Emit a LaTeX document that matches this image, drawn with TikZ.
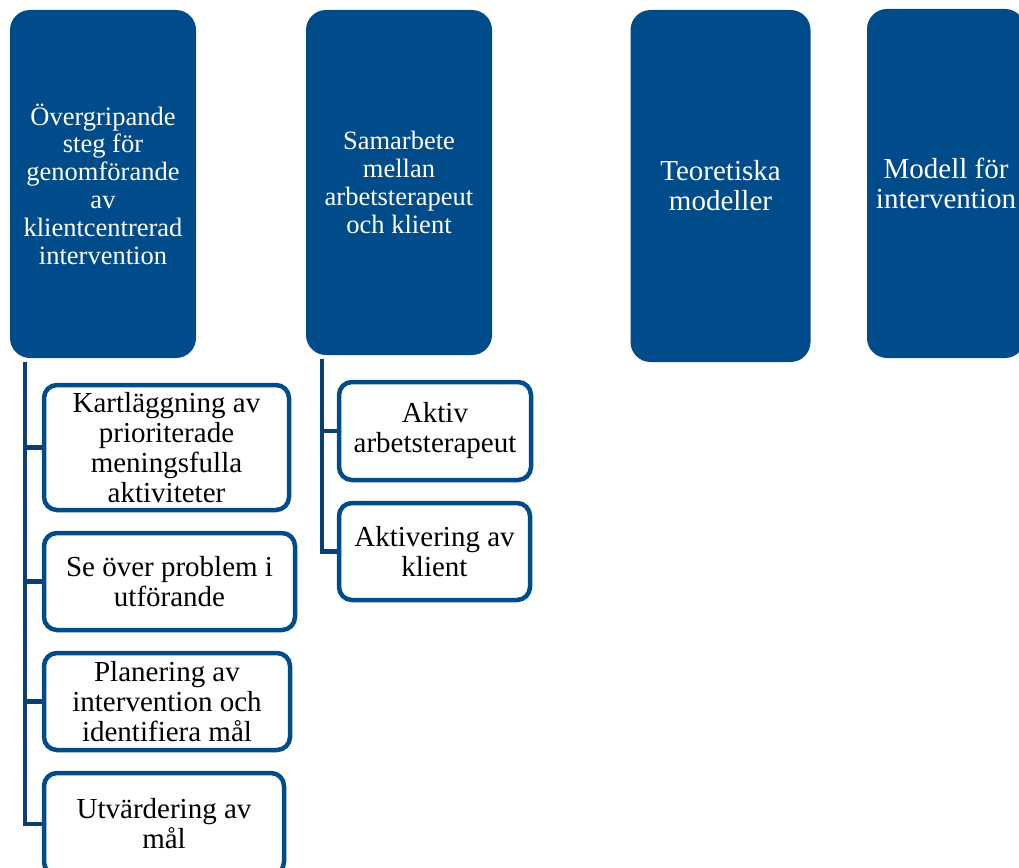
\documentclass[tikz,border=0pt]{standalone}
\usepackage{fontspec}
\setmainfont{Liberation Serif}
\newfontfamily\tnr{Liberation Serif}
\definecolor{boxblue}{HTML}{004C8A}
\definecolor{lineblue}{HTML}{0A3F72}
\tikzset{
  topbox/.style={rectangle, rounded corners=20pt, fill=boxblue, text=white, align=center, inner sep=2pt},
  subbox/.style={rectangle, rounded corners=13pt, draw=boxblue, line width=4.5pt, fill=white, text=black, align=center, inner sep=2pt, font=\tnr\fontsize{29}{30}\selectfont},
  conn/.style={draw=lineblue, line width=4.5pt},
}
\begin{document}
\begin{tikzpicture}[x=1pt, y=-1pt]
\useasboundingbox (0,0) rectangle (1019,867);
% top boxes
\node[topbox, minimum width=186pt, minimum height=348pt, font=\tnr\fontsize{26.5}{27.8}\selectfont] (b1) at (103,184)
  {Övergripande\\steg för\\genomförande\\av\\klientcentrerad\\intervention};
\node[topbox, minimum width=186pt, minimum height=345pt, font=\tnr\fontsize{26.5}{28}\selectfont] (b2) at (399,182.5)
  {Samarbete\\mellan\\arbetsterapeut\\och klient};
\node[topbox, minimum width=180pt, minimum height=352pt, font=\tnr\fontsize{29}{30}\selectfont] (b3) at (720.5,186)
  {Teoretiska\\modeller};
\node[topbox, minimum width=158pt, minimum height=349pt, font=\tnr\fontsize{29}{30}\selectfont] (b4) at (946,183.5)
  {Modell för\\intervention};
% left children
\node[subbox, minimum width=245pt, minimum height=125pt] (c1) at (166.5,447.5)
  {Kartläggning av\\prioriterade\\meningsfulla\\aktiviteter};
\node[subbox, minimum width=251pt, minimum height=97pt] (c2) at (169.5,581.5)
  {Se över problem i\\utförande};
\node[subbox, minimum width=246pt, minimum height=97pt] (c3) at (167,701.5)
  {Planering av\\intervention och\\identifiera mål};
\node[subbox, minimum width=240pt, minimum height=102pt] (c4) at (164,824)
  {Utvärdering av\\mål};
% middle children
\node[subbox, minimum width=192pt, minimum height=98pt] (a1) at (435,431)
  {Aktiv\\arbetsterapeut};
\node[subbox, minimum width=191pt, minimum height=97pt] (a2) at (434.5,551.5)
  {Aktivering av\\klient};
% connectors
\coordinate (s1) at ([xshift=15pt,yshift=-3.5pt]b1.south west);
\coordinate (s2) at ([xshift=16pt,yshift=-3.5pt]b2.south west);
\draw[conn] (s1) |- (c4.west);
\draw[conn] (s1) |- (c1.west);
\draw[conn] (s1) |- (c2.west);
\draw[conn] (s1) |- (c3.west);
\draw[conn] (s2) |- (a2.west);
\draw[conn] (s2) |- (a1.west);
\end{tikzpicture}
\end{document}
